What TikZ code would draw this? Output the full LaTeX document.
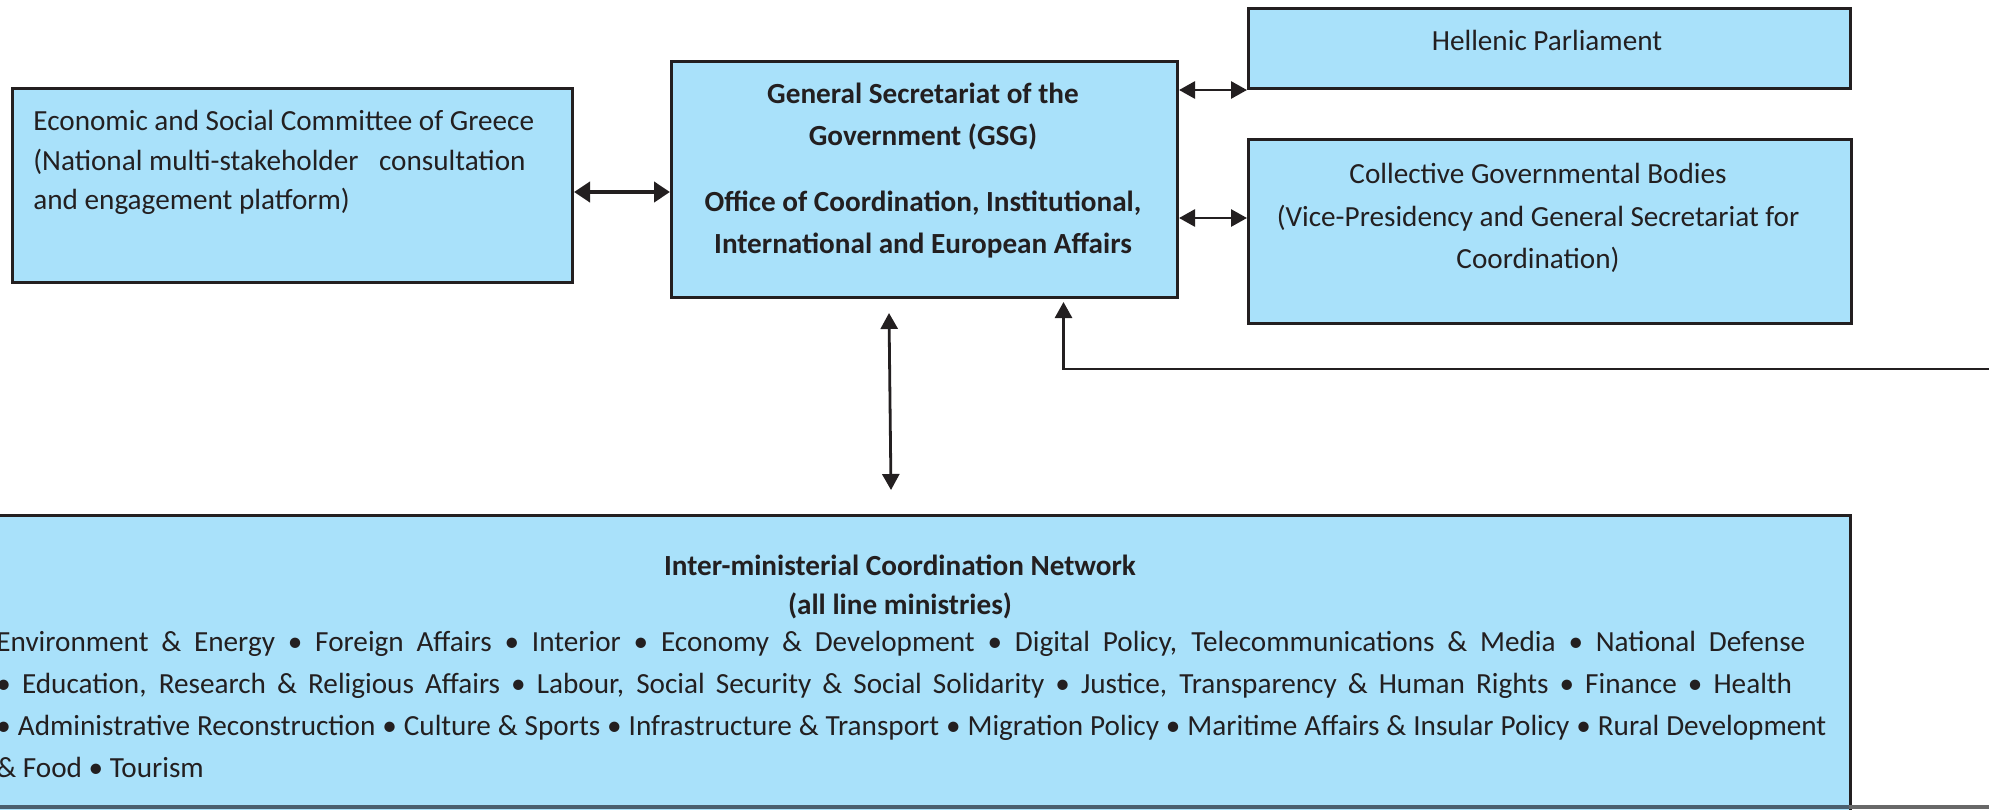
\documentclass[tikz,border=0pt]{standalone}
\usepackage{fontspec}
\setmainfont{Carlito}
\usetikzlibrary{arrows.meta}
\definecolor{sky}{HTML}{A9E1FA}
\definecolor{ink}{HTML}{231F20}
\definecolor{slate}{HTML}{4A5F6E}
\definecolor{band}{HTML}{686868}
\begin{document}
\begin{tikzpicture}[x=0.5pt,y=-0.5pt,
  box/.style={draw=ink,fill=sky,line width=1.5pt,inner sep=0pt,anchor=north west},
  txt/.style={text=ink,inner sep=0pt,font=\fontsize{14.6pt}{#1}\selectfont},
  btxt/.style={text=ink,inner sep=0pt,font=\fontsize{14.6pt}{#1}\selectfont\bfseries},
  arr/.style={<->,>={Triangle[length=8pt,width=8.5pt]},line width=1.4pt,draw=ink}]
\useasboundingbox (0,0) rectangle (1989,809);
\clip (0,0) rectangle (1989,809);
\node[box,minimum width=280pt,minimum height=97pt] (esc) at (11,87) {};
\node[box,minimum width=253pt,minimum height=118pt] (gsg) at (670,60) {};
\node[box,minimum width=301pt,minimum height=40pt] (hp) at (1247,7) {};
\node[box,minimum width=301.5pt,minimum height=92pt] (cgb) at (1247,138) {};
\node[box,minimum width=949pt,minimum height=193pt] (icn) at (-49,514) {};
\node[txt=19.75pt,anchor=north west,align=left] (esctxt) at (33,110) {Economic and Social Committee of Greece\\(National multi-stakeholder\hspace{7pt} consultation\\and engagement platform)};
\node[btxt=21pt,anchor=north,align=center] (gsgtxt) at (923,83) {General Secretariat of the\\Government (GSG)\\[12pt]Office of Coordination, Institutional,\\International and European Affairs};
\node[txt=20pt,anchor=base] (hptxt) at (1547,50) {Hellenic Parliament};
\node[txt=21.25pt,anchor=north,align=center] (cgbtxt) at (1538,163) {Collective Governmental Bodies\\(Vice-Presidency and General Secretariat for\\Coordination)};
\node[btxt=19.5pt,anchor=north,align=center] (icntitle) at (900,555) {Inter-ministerial Coordination Network\\(all line ministries)};
\node[txt=21pt,anchor=north west,align=left] (icnlist) at (-4,631) {\makebox[904.5pt][s]{Environment \& Energy • Foreign Affairs • Interior • Economy \& Development • Digital Policy, Telecommunications \& Media • National Defense}\\
\makebox[898pt][s]{• Education, Research \& Religious Affairs • Labour, Social Security \& Social Solidarity • Justice, Transparency \& Human Rights • Finance • Health}\\
\makebox[915pt][s]{• Administrative Reconstruction • Culture \& Sports • Infrastructure \& Transport • Migration Policy • Maritime Affairs \& Insular Policy • Rural Development}\\
\& Food • Tourism};
\draw[arr,line width=2.4pt,>={Triangle[length=8pt,width=10pt]}] (esc.east |- 0,192) -- (gsg.west |- 0,192);
\draw[arr] (gsg.east |- hp.south) -- (hp.south west);
\draw[arr] (gsg.east |- 0,218) -- (cgb.west |- 0,218);
\coordinate (up) at (889,313);
\coordinate (dn) at (891,490);
\draw[arr] (up) -- (dn);
\coordinate (fb) at (2010,369);
\draw[arr,->] (fb) -| ([xshift=69.5pt,yshift=-1.5pt]gsg.south);
\fill[slate] (0,805) rectangle (1849,809);
\fill[band] (1849,805) rectangle (1989,809);
\end{tikzpicture}
\end{document}
